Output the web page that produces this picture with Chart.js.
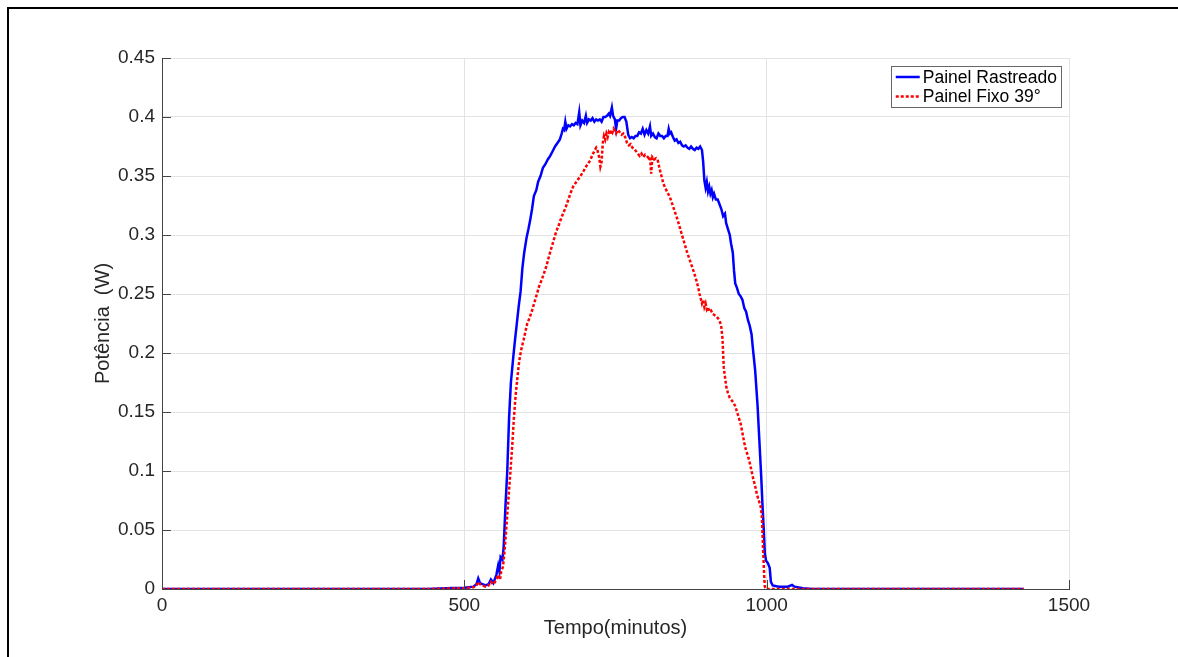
<!DOCTYPE html>
<html>
<head>
<meta charset="utf-8">
<script src="https://cdn.jsdelivr.net/npm/chart.js@4.4.1/dist/chart.umd.min.js"></script>
<style>
  html, body { margin: 0; padding: 0; background: #fff; }
  #wrap { position: relative; width: 1178px; height: 657px; }
  #frame { position: absolute; left: 7px; top: 7px; right: 0; bottom: 0;
           border-left: 2px solid #000; border-top: 2px solid #000; pointer-events: none; }
</style>
</head>
<body>
<div id="wrap">
  <canvas id="potChart" width="1178" height="657"></canvas>
  <div id="frame"></div>
</div>
<script>
// tempo (minutos) e potência (W)
const tempoRastreado = [0, 440, 480, 500, 515, 520, 523, 526, 535, 540, 544, 548, 553, 556, 558, 560, 563, 565, 568, 571, 574, 577, 581, 584, 587, 590, 593, 596, 599, 603, 606, 609, 612, 615, 619, 622, 626, 630, 634, 638, 642, 646, 650, 654, 658, 661, 663, 665, 667, 669, 672, 675, 678, 681, 684, 687, 690, 692, 695, 698, 701, 703, 706, 709, 712, 715, 718, 721, 724, 727, 730, 733, 736, 739, 741, 744, 746, 749, 751, 753, 756, 759, 762, 765, 768, 771, 774, 777, 780, 783, 786, 789, 792, 795, 798, 801, 804, 807, 809, 812, 815, 818, 821, 824, 827, 830, 833, 836, 838, 840, 842, 845, 848, 851, 854, 857, 860, 863, 866, 869, 872, 875, 878, 881, 884, 887, 890, 893, 895, 897, 899, 901, 903, 905, 907, 909, 911, 913, 916, 919, 922, 925, 928, 931, 933, 936, 939, 941, 944, 946, 948, 951, 954, 957, 960, 963, 966, 969, 972, 975, 977, 979, 981, 983, 985, 987, 989, 991, 993, 995, 997, 999, 1002, 1005, 1007, 1010, 1020, 1035, 1042, 1046, 1060, 1075, 1425];
const potRastreado = [0, 0, 0.0008, 0.001, 0.002, 0.004, 0.009, 0.005, 0.003, 0.004, 0.008, 0.005, 0.012, 0.02, 0.015, 0.027, 0.025, 0.035, 0.07, 0.1, 0.145, 0.175, 0.197, 0.212, 0.226, 0.24, 0.252, 0.272, 0.285, 0.298, 0.305, 0.313, 0.322, 0.333, 0.338, 0.345, 0.35, 0.357, 0.36, 0.364, 0.367, 0.371, 0.375, 0.378, 0.381, 0.386, 0.39, 0.389, 0.396, 0.39, 0.393, 0.392, 0.394, 0.393, 0.395, 0.394, 0.404, 0.393, 0.397, 0.395, 0.401, 0.395, 0.398, 0.397, 0.399, 0.396, 0.398, 0.397, 0.398, 0.396, 0.4, 0.4, 0.401, 0.403, 0.401, 0.408, 0.401, 0.398, 0.39, 0.397, 0.397, 0.399, 0.4, 0.4, 0.396, 0.385, 0.382, 0.383, 0.382, 0.384, 0.384, 0.387, 0.386, 0.39, 0.385, 0.389, 0.386, 0.392, 0.384, 0.386, 0.383, 0.382, 0.386, 0.384, 0.384, 0.382, 0.384, 0.384, 0.39, 0.386, 0.387, 0.383, 0.38, 0.381, 0.378, 0.379, 0.376, 0.375, 0.376, 0.374, 0.373, 0.375, 0.373, 0.372, 0.374, 0.373, 0.375, 0.372, 0.362, 0.346, 0.34, 0.345, 0.337, 0.341, 0.335, 0.338, 0.332, 0.335, 0.33, 0.33, 0.326, 0.322, 0.316, 0.318, 0.31, 0.305, 0.3, 0.293, 0.285, 0.27, 0.259, 0.255, 0.25, 0.248, 0.245, 0.238, 0.235, 0.228, 0.223, 0.216, 0.205, 0.195, 0.185, 0.17, 0.155, 0.135, 0.115, 0.095, 0.072, 0.052, 0.03, 0.024, 0.022, 0.018, 0.006, 0.003, 0.002, 0.002, 0.0035, 0.002, 0.0007, 0, 0];

const tempoFixo = [0, 440, 480, 500, 515, 520, 523, 526, 535, 540, 544, 548, 553, 556, 559, 561, 564, 567, 570, 573, 576, 579, 582, 585, 588, 590, 592, 595, 598, 601, 604, 608, 612, 616, 620, 624, 628, 632, 636, 640, 644, 648, 652, 656, 660, 664, 668, 672, 676, 680, 684, 688, 692, 696, 700, 704, 708, 712, 715, 718, 720, 723, 725, 727, 729, 731, 733, 735, 737, 739, 741, 743, 745, 747, 749, 751, 754, 757, 760, 763, 766, 769, 772, 775, 778, 781, 784, 787, 790, 793, 796, 799, 802, 805, 807, 809, 811, 814, 817, 820, 823, 826, 829, 832, 836, 840, 844, 848, 852, 856, 860, 864, 868, 872, 876, 880, 884, 887, 889, 891, 893, 895, 897, 899, 901, 903, 905, 908, 911, 914, 917, 920, 923, 925, 927, 928, 929, 931, 933, 936, 939, 942, 945, 948, 951, 954, 957, 960, 963, 966, 969, 972, 975, 978, 981, 984, 987, 990, 992, 994, 996, 997, 999, 1425];
const potFixo = [0, 0, 0.0005, 0.0008, 0.0015, 0.003, 0.006, 0.004, 0.002, 0.003, 0.006, 0.004, 0.008, 0.012, 0.008, 0.015, 0.019, 0.035, 0.056, 0.077, 0.098, 0.12, 0.145, 0.165, 0.18, 0.19, 0.197, 0.205, 0.211, 0.218, 0.225, 0.23, 0.236, 0.243, 0.25, 0.257, 0.262, 0.268, 0.274, 0.282, 0.289, 0.296, 0.303, 0.308, 0.314, 0.319, 0.324, 0.33, 0.336, 0.341, 0.344, 0.347, 0.35, 0.353, 0.357, 0.36, 0.363, 0.368, 0.371, 0.374, 0.372, 0.366, 0.358, 0.362, 0.378, 0.384, 0.381, 0.386, 0.383, 0.387, 0.385, 0.389, 0.387, 0.39, 0.388, 0.386, 0.389, 0.387, 0.385, 0.386, 0.383, 0.378, 0.376, 0.377, 0.374, 0.373, 0.371, 0.369, 0.367, 0.369, 0.366, 0.368, 0.367, 0.365, 0.366, 0.352, 0.366, 0.364, 0.365, 0.363, 0.356, 0.35, 0.344, 0.34, 0.336, 0.332, 0.326, 0.32, 0.314, 0.307, 0.3, 0.293, 0.286, 0.28, 0.274, 0.268, 0.261, 0.255, 0.25, 0.246, 0.242, 0.245, 0.239, 0.242, 0.237, 0.239, 0.235, 0.236, 0.233, 0.232, 0.231, 0.229, 0.226, 0.222, 0.212, 0.2, 0.188, 0.18, 0.172, 0.166, 0.162, 0.16, 0.158, 0.155, 0.15, 0.145, 0.14, 0.132, 0.124, 0.117, 0.113, 0.107, 0.1, 0.093, 0.087, 0.08, 0.075, 0.07, 0.062, 0.035, 0.01, 0.002, 0, 0];

const seriesNames = ['Painel Rastreado', 'Painel Fixo 39°'];
const xTickLabels = ['0', '500', '1000', '1500'];
const yTickLabels = ['0', '0.05', '0.1', '0.15', '0.2', '0.25', '0.3', '0.35', '0.4', '0.45'];

const FONT = '"Liberation Sans", Arial, Helvetica, sans-serif';
const TXT = '#262626';

const toPoints = (xs, ys) => xs.map((x, i) => ({ x: x, y: ys[i] }));

// ticks para dentro, estilo matlab
const innerTicks = {
    id: 'innerTicks',
    afterDatasetsDraw(chart) {
        const { ctx, chartArea, scales } = chart;
        ctx.save();
        ctx.strokeStyle = '#444';
        ctx.lineWidth = 1;
        ctx.beginPath();
        scales.x.ticks.forEach(t => {
            const px = Math.round(scales.x.getPixelForValue(t.value)) + 0.5;
            ctx.moveTo(px, chartArea.bottom);
            ctx.lineTo(px, chartArea.bottom - 9);
        });
        scales.y.ticks.forEach(t => {
            const py = Math.round(scales.y.getPixelForValue(t.value)) + 0.5;
            ctx.moveTo(chartArea.left, py);
            ctx.lineTo(chartArea.left + 9, py);
        });
        ctx.stroke();
        ctx.restore();
    }
};

// legenda com caixa no canto superior direito
const boxLegend = {
    id: 'boxLegend',
    afterDraw(chart) {
        const { ctx, chartArea } = chart;
        const sets = chart.data.datasets;
        ctx.save();
        ctx.font = '17.5px ' + FONT;
        const textW = Math.max(...sets.map(d => ctx.measureText(d.label).width));
        const w = 5 + 24 + 3 + textW + 4;
        const h = 41;
        const x0 = chartArea.right - 8 - w;
        const y0 = chartArea.top + 8;
        ctx.fillStyle = '#fff';
        ctx.fillRect(x0, y0, w, h);
        ctx.strokeStyle = '#666';
        ctx.lineWidth = 1;
        ctx.strokeRect(Math.round(x0) + 0.5, y0 + 0.5, Math.round(w), h);
        sets.forEach((d, i) => {
            const cy = y0 + 11 + i * 19.5;
            ctx.strokeStyle = d.borderColor;
            ctx.lineWidth = 2.5;
            ctx.setLineDash(d.borderDash || []);
            ctx.beginPath();
            ctx.moveTo(x0 + 5, cy);
            ctx.lineTo(x0 + 29, cy);
            ctx.stroke();
            ctx.setLineDash([]);
            ctx.fillStyle = '#000';
            ctx.textBaseline = 'middle';
            ctx.fillText(d.label, x0 + 32, cy + 1);
        });
        ctx.restore();
    }
};

const ctx = document.getElementById('potChart').getContext('2d');
const chart = new Chart(ctx, {
    type: 'line',
    data: {
        datasets: [{
            label: seriesNames[0],
            data: toPoints(tempoRastreado, potRastreado),
            borderColor: '#0000ff',
            borderWidth: 2.5,
            pointRadius: 0,
            order: 1
        }, {
            label: seriesNames[1],
            data: toPoints(tempoFixo, potFixo),
            borderColor: '#ff0000',
            borderWidth: 2.5,
            borderDash: [3, 2],
            pointRadius: 0,
            order: 0
        }]
    },
    options: {
        responsive: false,
        animation: false,
        layout: { padding: { left: 0, right: 109, top: 58, bottom: 0 } },
        plugins: { legend: { display: false }, tooltip: { enabled: false } },
        scales: {
            x: {
                type: 'linear',
                min: 0,
                max: 1500,
                afterFit: s => { s.height = 68; },
                ticks: {
                    stepSize: 500,
                    padding: 5,
                    color: TXT,
                    font: { family: FONT, size: 19 },
                    callback: (v, i) => xTickLabels[i]
                },
                grid: { color: '#e3e3e3', drawTicks: false },
                border: { color: '#444', width: 1 },
                title: {
                    display: true,
                    text: 'Tempo(minutos)',
                    color: TXT,
                    font: { family: FONT, size: 20 },
                    padding: { top: 0, bottom: 17 }
                }
            },
            y: {
                min: 0,
                max: 0.45,
                afterFit: s => { s.width = 162; },
                ticks: {
                    stepSize: 0.05,
                    padding: 7,
                    color: TXT,
                    font: { family: FONT, size: 19 },
                    callback: (v, i) => yTickLabels[i]
                },
                grid: { color: '#e3e3e3', drawTicks: false },
                border: { color: '#444', width: 1 },
                title: {
                    display: true,
                    text: 'Potência  (W)',
                    color: TXT,
                    font: { family: FONT, size: 20 },
                    padding: { top: 91, bottom: 0 }
                }
            }
        }
    },
    plugins: [innerTicks, boxLegend]
});
</script>
</body>
</html>
